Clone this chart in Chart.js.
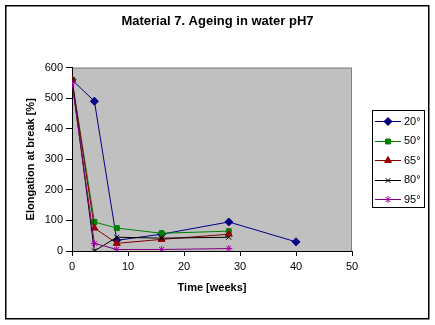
<!DOCTYPE html>
<html>
<head>
<meta charset="utf-8">
<script src="https://cdn.jsdelivr.net/npm/chart.js@4/dist/chart.umd.min.js"></script>
<style>
html,body{margin:0;padding:0;background:#fff;}
#wrap{width:435px;height:325px;position:relative;}
</style>
</head>
<body>
<div id="wrap"><canvas id="c" width="435" height="325"></canvas></div>
<script>
const chartTitle = "Material 7. Ageing in water pH7";
const xTitle = "Time [weeks]";
const yTitle = "Elongation at break [%]";
const seriesNames = ["20°", "50°", "65°", "80°", "95°"];
const weeks = [0, 4, 8, 16, 28, 40];
const s20 = [560, 490, 35, 55, 95, 30];
const s50 = [560, 95, 75, 58, 65];
const s65 = [560, 75, 25, 38, 55];
const s80 = [560, 0, 45, 42, 45];
const s95 = [550, 25, 5, 5, 8];
const xTicks = [0, 10, 20, 30, 40, 50];
const yTicks = [0, 100, 200, 300, 400, 500, 600];

const FONT = "'Liberation Sans', Arial, sans-serif";
const styles = [
  {color:'#000080', fill:'#000080', pointStyle:'rectRot', r:4},
  {color:'#008000', fill:'#008000', pointStyle:'rect', r:3.5},
  {color:'#800000', fill:'#990000', pointStyle:'triangle', r:4},
  {color:'#000000', fill:'#000000', pointStyle:'crossRot', r:3.5},
  {color:'#800080', fill:'#a000a0', pointStyle:'star', r:3.5}
];
const seriesVals = [s20, s50, s65, s80, s95];
const datasets = seriesVals.map((vals, i) => ({
  label: seriesNames[i],
  data: vals.map((v, j) => ({x: weeks[j], y: v})),
  showLine: true,
  order: -i,
  borderColor: styles[i].color,
  backgroundColor: styles[i].fill,
  pointBorderColor: styles[i].fill,
  pointBackgroundColor: styles[i].fill,
  borderWidth: 1,
  pointBorderWidth: 1,
  pointStyle: styles[i].pointStyle,
  pointRadius: styles[i].r,
  pointHoverRadius: styles[i].r,
  tension: 0
}));

const framePlugin = {
  id: 'frame',
  beforeDraw(chart) {
    const ctx = chart.ctx, a = chart.chartArea;
    ctx.save();
    ctx.fillStyle = '#ffffff';
    ctx.fillRect(0, 0, chart.width, chart.height);
    ctx.strokeStyle = '#000000';
    ctx.lineWidth = 1.5;
    ctx.strokeRect(5.75, 5.75, 423, 313);
    ctx.fillStyle = '#c0c0c0';
    ctx.fillRect(a.left, a.top, a.right - a.left, a.bottom - a.top);
    ctx.strokeStyle = '#808080';
    ctx.lineWidth = 1;
    ctx.strokeRect(a.left + 0.5, a.top + 0.5, a.right - a.left - 1, a.bottom - a.top);
    ctx.restore();
  },
  afterDraw(chart) {
    const ctx = chart.ctx;
    const bx = 372, by = 110, bw = 52, bh = 97;
    ctx.save();
    ctx.fillStyle = '#ffffff';
    ctx.fillRect(bx, by, bw, bh);
    ctx.strokeStyle = '#000000';
    ctx.lineWidth = 1;
    ctx.strokeRect(bx + 0.5, by + 0.5, bw, bh);
    chart.data.datasets.forEach((ds, i) => {
      const y = 121 + i * 19.5;
      ctx.strokeStyle = ds.borderColor;
      ctx.lineWidth = 1;
      ctx.beginPath();
      ctx.moveTo(375, Math.round(y) + 0.5);
      ctx.lineTo(401, Math.round(y) + 0.5);
      ctx.stroke();
      ctx.fillStyle = ds.pointBackgroundColor;
      ctx.strokeStyle = ds.pointBorderColor;
      Chart.helpers.drawPoint(ctx, {pointStyle: ds.pointStyle, radius: ds.pointRadius, borderWidth: 1, rotation: 0}, 388, Math.round(y) + 0.5);
      ctx.fillStyle = '#000000';
      ctx.font = '11px ' + FONT;
      ctx.textAlign = 'left';
      ctx.textBaseline = 'middle';
      ctx.fillText(ds.label, 404, y + 0.5);
    });
    ctx.restore();
  }
};

new Chart(document.getElementById('c'), {
  type: 'scatter',
  data: {datasets},
  plugins: [framePlugin],
  options: {
    responsive: false,
    animation: false,
    events: [],
    layout: {padding: 0},
    plugins: {
      legend: {display: false},
      tooltip: {enabled: false},
      title: {
        display: true,
        text: chartTitle,
        color: '#000000',
        font: {family: FONT, size: 13, weight: 'bold', lineHeight: 1.2},
        padding: {top: 14, bottom: 38}
      }
    },
    scales: {
      x: {
        type: 'linear',
        min: 0, max: 50,
        afterBuildTicks: s => { s.ticks = xTicks.map(v => ({value: v})); },
        afterFit: s => { s.height = 74; },
        grid: {display: true, drawOnChartArea: false, drawTicks: true, tickLength: 5, color: '#000000', tickColor: '#000000'},
        border: {display: true, color: '#000000', width: 1},
        ticks: {color: '#000000', font: {family: FONT, size: 11}, padding: 4, maxRotation: 0},
        title: {display: true, text: xTitle, color: '#000000', font: {family: FONT, size: 11, weight: 'bold', lineHeight: 1.2}, padding: {top: 0, bottom: 30}}
      },
      y: {
        type: 'linear',
        min: 0, max: 600,
        afterBuildTicks: s => { s.ticks = yTicks.map(v => ({value: v})); },
        afterFit: s => { s.width = 72; },
        grid: {display: true, drawOnChartArea: false, drawTicks: true, tickLength: 6, color: '#000000', tickColor: '#000000'},
        border: {display: true, color: '#000000', width: 1},
        ticks: {color: '#000000', font: {family: FONT, size: 11}, padding: 3},
        title: {display: true, text: yTitle, color: '#000000', font: {family: FONT, size: 11, weight: 'bold', lineHeight: 1.2}, padding: {top: 24, bottom: 0}}
      },
      yR: {
        type: 'linear',
        position: 'right',
        display: true,
        afterFit: s => { s.width = 83; },
        grid: {display: false, drawTicks: false},
        border: {display: false},
        ticks: {display: false}
      }
    }
  }
});
</script>
</body>
</html>
